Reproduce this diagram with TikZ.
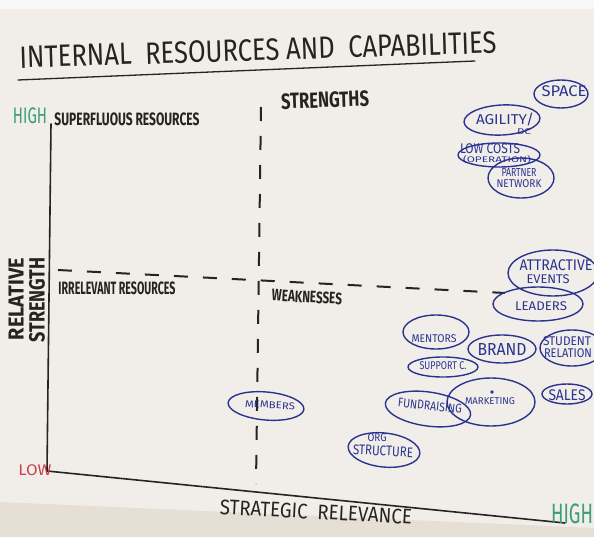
\documentclass[tikz,border=0pt]{standalone}
\usepackage{fontspec}
\setmainfont{Fira Sans}
\usetikzlibrary{shapes.geometric}
\definecolor{paper}{HTML}{F1EEE9}
\definecolor{paperlow}{HTML}{E5DFD6}
\definecolor{topwhite}{HTML}{F8F8F6}
\definecolor{ink}{HTML}{262320}
\definecolor{bluepen}{HTML}{2A3490}
\definecolor{greenpen}{HTML}{3C9E72}
\definecolor{redpen}{HTML}{C8424A}
\newcommand{\hw}[3]{\resizebox*{#1pt}{#2pt}{#3}}
\begin{document}
\begin{tikzpicture}[x=1pt,y=-1pt,
  hand/.style={inner sep=0pt, text=ink, font=\bfseries},
  thinhand/.style={inner sep=0pt, text=ink},
  btext/.style={inner sep=0pt, text=bluepen},
  blob/.style={ellipse, draw=bluepen, line width=1.4pt, inner sep=0pt},
  axis/.style={draw=ink, line width=1.6pt, line cap=round, line join=round},
  divider/.style={draw=ink, line width=2pt, dash pattern=on 14pt off 15pt},
]
\useasboundingbox (0,0) rectangle (594,537);
\clip (0,0) rectangle (594,537);
% background
\fill[paper] (0,0) rectangle (594,537);
\fill[topwhite] (0,0) rectangle (594,9);
\fill[paperlow] (0,502) -- (594,528) -- (594,537) -- (0,537) -- cycle;

% title
\node[thinhand, rotate=1.8] (title) at (258,50) {\hw{477}{22}{INTERNAL\ \ RESOURCES AND\ \ CAPABILITIES}};
\coordinate (ulA) at (18,80);
\coordinate (ulB) at (475,61);
\draw[axis, line width=1.3pt] (ulA) -- (ulB);

% axes
\coordinate (yTop) at (51,124);
\coordinate (orig) at (47,471);
\coordinate (xEnd) at (565,523);
\draw[axis] (yTop) -- (orig) -- (xEnd);

% quadrant dividers
\coordinate (vTop) at (261,107);
\coordinate (vBot) at (256,484);
\draw[divider] (vTop) -- (vBot);
\coordinate (hL) at (58,270);
\coordinate (hR) at (505,293);
\draw[divider] (hL) -- (hR);

% axis labels
\node[inner sep=0pt, text=greenpen] (highY) at (30,116) {\hw{34}{16}{HIGH}};
\node[inner sep=0pt, text=redpen] (lowY) at (35,470) {\hw{33}{11}{LOW}};
\node[hand, rotate=90] (relA) at (16,299) {\hw{82}{15}{RELATIVE}};
\node[hand, rotate=90] (relB) at (37,300) {\hw{85}{16}{STRENGTH}};
\node[thinhand, rotate=-3] (stratrel) at (316,512) {\hw{192}{15}{STRATEGIC\ \ RELEVANCE}};
\node[inner sep=0pt, text=greenpen] (highX) at (572,514) {\hw{42}{20}{HIGH}};

% quadrant labels
\node[hand] (superfl) at (127,119) {\hw{145}{13}{SUPERFLUOUS RESOURCES}};
\node[hand, rotate=2] (strengths) at (325,100) {\hw{88}{16}{STRENGTHS}};
\node[hand] (irrel) at (117,288) {\hw{117}{13}{IRRELEVANT RESOURCES}};
\node[hand, rotate=-3] (weak) at (307,297) {\hw{70}{12}{WEAKNESSES}};

% resources (ellipses)
\node[blob, minimum width=54, minimum height=28] (space) at (561,94) {};
\node[btext] (spaceT) at (564,91) {\hw{45}{11}{SPACE}};

\node[blob, minimum width=76, minimum height=30, rotate=3] (agility) at (502,120) {};
\node[btext] (agilityT) at (505,119) {\hw{58}{13}{AGILITY/}};
\node[btext] (agilityD) at (524,131.5) {\hw{14}{6}{DC}};

\node[blob, minimum width=82, minimum height=24] (lowcost) at (499,155) {};
\node[btext] (lowcostA) at (490,148.5) {\hw{60}{10}{LOW COSTS}};
\node[btext] (lowcostB) at (497,159.5) {\hw{68}{8}{(OPERATION)}};

\node[blob, minimum width=66, minimum height=40] (partner) at (521,178) {};
\node[btext] (partnerA) at (519,173) {\hw{35}{8}{PARTNER}};
\node[btext] (partnerB) at (519,184) {\hw{45}{8}{NETWORK}};

\node[blob, minimum width=90, minimum height=46] (events) at (553,273) {};
\node[btext] (eventsA) at (556,265.5) {\hw{73}{11}{ATTRACTIVE}};
\node[btext] (eventsB) at (548,279) {\hw{43}{9}{EVENTS}};

\node[blob, minimum width=90, minimum height=34] (leaders) at (538,304) {};
\node[btext] (leadersT) at (541,306) {\hw{52}{9}{LEADERS}};

\node[blob, minimum width=66, minimum height=34] (mentors) at (436,332) {};
\node[btext] (mentorsT) at (434,339) {\hw{45}{8}{MENTORS}};

\node[blob, minimum width=68, minimum height=28] (brand) at (502,349) {};
\node[btext] (brandT) at (502,349) {\hw{49}{12}{BRAND}};

\node[blob, minimum width=64, minimum height=36] (student) at (572,348) {};
\node[btext] (studentA) at (567,341) {\hw{48}{9}{STUDENT}};
\node[btext] (studentB) at (568,353) {\hw{48}{9}{RELATION}};

\node[blob, minimum width=70, minimum height=20] (support) at (443,367) {};
\node[btext] (supportT) at (443,366) {\hw{47}{8}{SUPPORT C.}};

\node[blob, minimum width=88, minimum height=48] (marketing) at (491,402) {};
\node[btext] (marketingT) at (490,401) {\hw{50}{7}{MARKETING}};
\node[circle, fill=bluepen, inner sep=1.3pt] (mdot) at (492,392) {};

\node[blob, minimum width=86, minimum height=34, rotate=-8] (fundraising) at (428,409) {};
\node[btext, rotate=-6] (fundraisingT) at (430,406) {\hw{64}{9}{FUNDRAISING}};

\node[blob, minimum width=50, minimum height=20] (sales) at (567,394) {};
\node[btext] (salesT) at (567,395) {\hw{37}{11}{SALES}};

\node[blob, minimum width=76, minimum height=28, rotate=-5] (members) at (266,406) {};
\node[btext, rotate=-3] (membersT) at (270,405) {\hw{50}{7}{MEMBERS}};

\node[blob, minimum width=72, minimum height=34, rotate=-6] (org) at (384,450) {};
\node[btext] (orgA) at (377,437.5) {\hw{19}{8}{ORG}};
\node[btext, rotate=-3] (orgB) at (383,451) {\hw{60}{10}{STRUCTURE}};
\end{tikzpicture}
\end{document}
